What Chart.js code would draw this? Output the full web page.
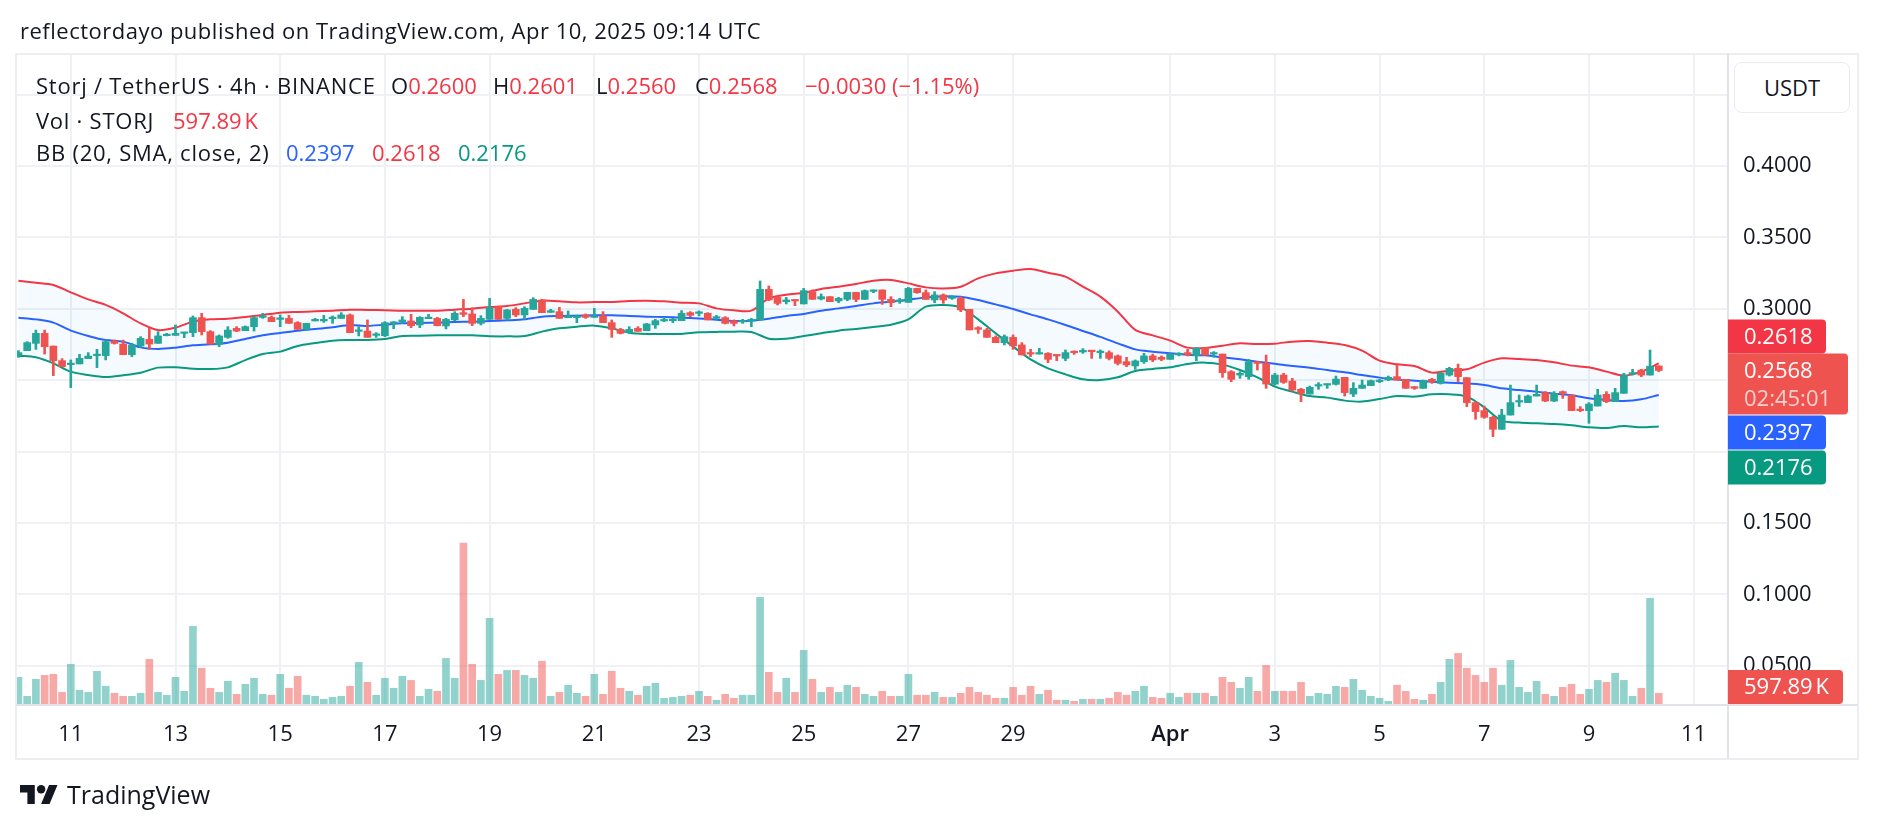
<!DOCTYPE html>
<html>
<head>
<meta charset="utf-8">
<script src="https://cdn.jsdelivr.net/npm/chart.js@4.4.1/dist/chart.umd.min.js"></script>
<style>
  html, body { margin: 0; padding: 0; background: #fff; }
  body { width: 1878px; height: 830px; position: relative; overflow: hidden;
         font-family: "Open Sans", sans-serif; color: #131722; }
  #chart { position: absolute; left: 0; top: 0; }
  .t { position: absolute; white-space: nowrap; line-height: 1; }
  #head { left: 20px; top: 18.5px; font-size: 22px; letter-spacing: 0.5px; }
  .leg { font-size: 22px; }
  .name { letter-spacing: 0.75px; }
  .red { color: #f23645; }
  .blue { color: #2962ff; }
  .green { color: #089981; }
  #usdt { position: absolute; left: 1734px; top: 62px; width: 114px; height: 49px;
          border: 1px solid #e9ebf0; border-radius: 8px; background: #fff;
          font-size: 22px; line-height: 49px; text-align: center; }
  #logo { position: absolute; left: 20px; top: 783px; height: 22px; display: flex; align-items: center; }
  #logo span { font-size: 25px; margin-left: 9px; line-height: 1; }
</style>
</head>
<body>
<canvas id="chart" width="1878" height="830"></canvas>

<div class="t" id="head">reflectordayo published on TradingView.com, Apr 10, 2025 09:14 UTC</div>

<div class="t leg name" style="left:36px;top:73.5px">Storj / TetherUS · 4h · BINANCE</div>
<div class="t leg" style="left:391px;top:73.5px">O<span class="red" id="lo"></span></div>
<div class="t leg" style="left:493px;top:73.5px">H<span class="red" id="lh"></span></div>
<div class="t leg" style="left:596px;top:73.5px">L<span class="red" id="ll"></span></div>
<div class="t leg" style="left:695px;top:73.5px">C<span class="red" id="lc"></span></div>
<div class="t leg red" style="left:805px;top:73.5px" id="lchg"></div>

<div class="t leg name" style="left:36px;top:109px">Vol · STORJ</div>
<div class="t leg red" style="left:173px;top:109px" id="lvol"></div>

<div class="t leg name" style="left:36px;top:141px">BB (20, SMA, close, 2)</div>
<div class="t leg blue" style="left:286px;top:141px" id="lbm"></div>
<div class="t leg red" style="left:372px;top:141px" id="lbu"></div>
<div class="t leg green" style="left:458px;top:141px" id="lbl"></div>

<div id="usdt">USDT</div>

<div id="logo">
  <svg width="38" height="19" viewBox="0 4 36 18"><path d="M14 22H7V11H0V4h14v18zM28 22h-8l7.5-18h8L28 22z" fill="#131722"/><circle cx="20" cy="8" r="4" fill="#131722"/></svg>
  <span>TradingView</span>
</div>

<script>
// STORJ/USDT 4h, candle 0 = Mar 10 00:00 UTC, last = Apr 10 08:00
const candleOpen = [
  0.2676, 0.2707, 0.2758, 0.2828, 0.2739, 0.2637, 0.2609, 0.2614, 0.2651, 0.2672,
  0.2672, 0.2774, 0.2753, 0.2679, 0.2739, 0.2786, 0.2758, 0.2812, 0.2814, 0.2828,
  0.2833, 0.2938, 0.2840, 0.2751, 0.2800, 0.2863, 0.2847, 0.2875, 0.2940, 0.2940,
  0.2926, 0.2933, 0.2903, 0.2856, 0.2915, 0.2915, 0.2931, 0.2933, 0.2957, 0.2842,
  0.2844, 0.2814, 0.2812, 0.2898, 0.2910, 0.2915, 0.2887, 0.2931, 0.2933, 0.2880,
  0.2922, 0.2973, 0.2964, 0.2898, 0.2926, 0.3015, 0.2933, 0.2996, 0.2957, 0.2996,
  0.3062, 0.2975, 0.2980, 0.2938, 0.2938, 0.2957, 0.2940, 0.2950, 0.2903, 0.2856,
  0.2833, 0.2863, 0.2847, 0.2887, 0.2915, 0.2917, 0.2917, 0.2973, 0.2968, 0.2968,
  0.2933, 0.2938, 0.2915, 0.2908, 0.2915, 0.2922, 0.3136, 0.3080, 0.3050, 0.3062,
  0.3034, 0.3120, 0.3069, 0.3085, 0.3055, 0.3066, 0.3115, 0.3066, 0.3122, 0.3132,
  0.3066, 0.3050, 0.3045, 0.3143, 0.3113, 0.3062, 0.3097, 0.3073, 0.3073, 0.2996,
  0.2868, 0.2852, 0.2800, 0.2763, 0.2800, 0.2747, 0.2693, 0.2683, 0.2688, 0.2674,
  0.2653, 0.2700, 0.2698, 0.2705, 0.2693, 0.2693, 0.2670, 0.2630, 0.2600, 0.2630,
  0.2670, 0.2660, 0.2646, 0.2677, 0.2693, 0.2670, 0.2730, 0.2683, 0.2683, 0.2560,
  0.2536, 0.2525, 0.2630, 0.2618, 0.2473, 0.2536, 0.2494, 0.2436, 0.2403, 0.2459,
  0.2466, 0.2471, 0.2520, 0.2403, 0.2443, 0.2462, 0.2490, 0.2501, 0.2525, 0.2506,
  0.2455, 0.2443, 0.2506, 0.2478, 0.2536, 0.2583, 0.2518, 0.2343, 0.2287, 0.2240,
  0.2156, 0.2256, 0.2347, 0.2343, 0.2389, 0.2413, 0.2354, 0.2420, 0.2396, 0.2296,
  0.2287, 0.2319, 0.2401, 0.2350, 0.2408, 0.2541, 0.2571, 0.2536, 0.2600
];
const candleHigh = [
  0.2707, 0.2770, 0.2851, 0.2851, 0.2739, 0.2651, 0.2642, 0.2681, 0.2693, 0.2716,
  0.2781, 0.2781, 0.2781, 0.2758, 0.2805, 0.2863, 0.2840, 0.2828, 0.2887, 0.2835,
  0.2950, 0.2968, 0.2847, 0.2817, 0.2875, 0.2875, 0.2880, 0.2945, 0.2968, 0.2950,
  0.2957, 0.2954, 0.2910, 0.2898, 0.2933, 0.2954, 0.2950, 0.2973, 0.2964, 0.2875,
  0.2922, 0.2833, 0.2910, 0.2910, 0.2945, 0.2961, 0.2945, 0.2961, 0.2940, 0.2933,
  0.2980, 0.3066, 0.3008, 0.2952, 0.3073, 0.3015, 0.2996, 0.3008, 0.3015, 0.3078,
  0.3066, 0.2996, 0.3010, 0.2985, 0.2957, 0.2964, 0.3003, 0.2980, 0.2922, 0.2863,
  0.2875, 0.2875, 0.2898, 0.2926, 0.2940, 0.2933, 0.2987, 0.2980, 0.2985, 0.2973,
  0.2954, 0.2945, 0.2922, 0.2926, 0.2933, 0.3195, 0.3160, 0.3085, 0.3080, 0.3062,
  0.3143, 0.3132, 0.3104, 0.3085, 0.3080, 0.3115, 0.3115, 0.3132, 0.3132, 0.3132,
  0.3085, 0.3073, 0.3150, 0.3143, 0.3132, 0.3120, 0.3104, 0.3090, 0.3085, 0.2996,
  0.2875, 0.2863, 0.2810, 0.2817, 0.2817, 0.2763, 0.2716, 0.2723, 0.2693, 0.2674,
  0.2712, 0.2705, 0.2721, 0.2705, 0.2712, 0.2705, 0.2677, 0.2660, 0.2642, 0.2688,
  0.2683, 0.2670, 0.2688, 0.2693, 0.2716, 0.2728, 0.2730, 0.2700, 0.2683, 0.2567,
  0.2560, 0.2646, 0.2630, 0.2676, 0.2548, 0.2548, 0.2513, 0.2443, 0.2459, 0.2483,
  0.2473, 0.2529, 0.2520, 0.2483, 0.2501, 0.2501, 0.2506, 0.2529, 0.2606, 0.2506,
  0.2455, 0.2501, 0.2513, 0.2553, 0.2590, 0.2613, 0.2518, 0.2350, 0.2319, 0.2249,
  0.2296, 0.2466, 0.2396, 0.2396, 0.2466, 0.2420, 0.2420, 0.2424, 0.2396, 0.2315,
  0.2343, 0.2436, 0.2420, 0.2443, 0.2548, 0.2576, 0.2576, 0.2711, 0.2601
];
const candleLow = [
  0.2660, 0.2707, 0.2716, 0.2683, 0.2532, 0.2595, 0.2448, 0.2614, 0.2651, 0.2588,
  0.2642, 0.2753, 0.2679, 0.2665, 0.2730, 0.2716, 0.2758, 0.2810, 0.2814, 0.2798,
  0.2805, 0.2817, 0.2753, 0.2735, 0.2793, 0.2840, 0.2847, 0.2844, 0.2933, 0.2910,
  0.2875, 0.2898, 0.2856, 0.2856, 0.2915, 0.2905, 0.2898, 0.2933, 0.2833, 0.2810,
  0.2800, 0.2800, 0.2805, 0.2861, 0.2898, 0.2868, 0.2868, 0.2931, 0.2880, 0.2859,
  0.2915, 0.2945, 0.2882, 0.2887, 0.2926, 0.2926, 0.2922, 0.2945, 0.2926, 0.2996,
  0.2973, 0.2975, 0.2933, 0.2938, 0.2903, 0.2933, 0.2940, 0.2903, 0.2800, 0.2824,
  0.2828, 0.2842, 0.2847, 0.2863, 0.2910, 0.2903, 0.2917, 0.2945, 0.2950, 0.2922,
  0.2926, 0.2894, 0.2880, 0.2898, 0.2875, 0.2922, 0.3057, 0.3027, 0.3034, 0.3022,
  0.3034, 0.3066, 0.3062, 0.3050, 0.3043, 0.3057, 0.3050, 0.3066, 0.3113, 0.3031,
  0.3015, 0.3038, 0.3045, 0.3108, 0.3066, 0.3043, 0.3038, 0.3066, 0.2980, 0.2852,
  0.2828, 0.2800, 0.2763, 0.2747, 0.2716, 0.2677, 0.2665, 0.2683, 0.2623, 0.2637,
  0.2637, 0.2681, 0.2688, 0.2653, 0.2653, 0.2642, 0.2607, 0.2595, 0.2576, 0.2618,
  0.2630, 0.2637, 0.2646, 0.2670, 0.2670, 0.2637, 0.2676, 0.2660, 0.2520, 0.2490,
  0.2513, 0.2506, 0.2571, 0.2443, 0.2466, 0.2478, 0.2424, 0.2350, 0.2403, 0.2436,
  0.2443, 0.2466, 0.2389, 0.2385, 0.2443, 0.2462, 0.2483, 0.2497, 0.2501, 0.2443,
  0.2436, 0.2443, 0.2478, 0.2473, 0.2529, 0.2490, 0.2315, 0.2226, 0.2233, 0.2105,
  0.2156, 0.2256, 0.2315, 0.2343, 0.2389, 0.2350, 0.2350, 0.2373, 0.2287, 0.2280,
  0.2198, 0.2319, 0.2343, 0.2350, 0.2408, 0.2536, 0.2525, 0.2536, 0.2560
];
const candleClose = [
  0.2693, 0.2763, 0.2828, 0.2735, 0.2637, 0.2595, 0.2618, 0.2653, 0.2669, 0.2679,
  0.2770, 0.2758, 0.2679, 0.2746, 0.2793, 0.2753, 0.2810, 0.2821, 0.2828, 0.2835,
  0.2938, 0.2840, 0.2753, 0.2810, 0.2851, 0.2844, 0.2875, 0.2938, 0.2950, 0.2910,
  0.2933, 0.2898, 0.2856, 0.2898, 0.2926, 0.2926, 0.2940, 0.2957, 0.2833, 0.2851,
  0.2800, 0.2824, 0.2903, 0.2903, 0.2922, 0.2882, 0.2940, 0.2940, 0.2882, 0.2926,
  0.2968, 0.2961, 0.2898, 0.2933, 0.3010, 0.2926, 0.2992, 0.2957, 0.3003, 0.3066,
  0.2973, 0.2987, 0.2933, 0.2950, 0.2945, 0.2940, 0.2950, 0.2903, 0.2856, 0.2828,
  0.2856, 0.2842, 0.2894, 0.2917, 0.2922, 0.2922, 0.2968, 0.2954, 0.2975, 0.2922,
  0.2945, 0.2898, 0.2898, 0.2915, 0.2926, 0.3136, 0.3062, 0.3038, 0.3062, 0.3055,
  0.3127, 0.3066, 0.3085, 0.3050, 0.3073, 0.3115, 0.3066, 0.3127, 0.3132, 0.3066,
  0.3043, 0.3062, 0.3143, 0.3113, 0.3066, 0.3097, 0.3062, 0.3080, 0.2992, 0.2852,
  0.2856, 0.2800, 0.2763, 0.2805, 0.2740, 0.2677, 0.2683, 0.2693, 0.2646, 0.2670,
  0.2693, 0.2693, 0.2707, 0.2700, 0.2700, 0.2653, 0.2618, 0.2607, 0.2635, 0.2670,
  0.2642, 0.2646, 0.2683, 0.2688, 0.2677, 0.2723, 0.2676, 0.2693, 0.2553, 0.2506,
  0.2548, 0.2630, 0.2618, 0.2473, 0.2536, 0.2485, 0.2431, 0.2408, 0.2450, 0.2466,
  0.2473, 0.2508, 0.2413, 0.2443, 0.2466, 0.2497, 0.2497, 0.2520, 0.2501, 0.2443,
  0.2443, 0.2497, 0.2490, 0.2548, 0.2583, 0.2525, 0.2343, 0.2280, 0.2240, 0.2156,
  0.2256, 0.2343, 0.2354, 0.2389, 0.2401, 0.2354, 0.2408, 0.2408, 0.2287, 0.2287,
  0.2333, 0.2396, 0.2350, 0.2413, 0.2536, 0.2553, 0.2536, 0.2598, 0.2568
];
// volume in thousands of STORJ
const volumeK = [
  1490, 430, 1380, 1600, 1660, 650, 2220, 770, 650, 1830,
  990, 600, 430, 430, 600, 2500, 650, 490, 1490, 710,
  4340, 2000, 880, 650, 1270, 540, 1100, 1440, 540, 490,
  1660, 880, 1550, 490, 430, 260, 370, 430, 990, 2330,
  1210, 490, 1440, 880, 1550, 1320, 430, 820, 710, 2550,
  1440, 9000, 2220, 1320, 4790, 1660, 1880, 1880, 1600, 1440,
  2390, 430, 650, 1050, 600, 430, 1660, 540, 1830, 880,
  710, 490, 990, 1160, 320, 370, 430, 490, 710, 430,
  210, 540, 320, 490, 490, 5960, 1770, 650, 1440, 650,
  3000, 1380, 650, 930, 650, 1050, 930, 540, 430, 710,
  430, 430, 1660, 490, 490, 650, 370, 370, 600, 930,
  650, 490, 320, 320, 930, 490, 990, 540, 770, 210,
  210, 150, 260, 260, 260, 320, 650, 490, 710, 990,
  370, 320, 600, 370, 600, 600, 600, 430, 1490, 1210,
  880, 1490, 710, 2160, 710, 710, 710, 1210, 430, 600,
  540, 990, 930, 1380, 770, 430, 320, 150, 1050, 710,
  260, 210, 540, 1210, 2500, 2830, 2000, 1600, 1210, 2000,
  1050, 2440, 930, 650, 1270, 540, 430, 930, 1100, 540,
  820, 1320, 1210, 1720, 1320, 430, 880, 5910, 597.89
];

// Bollinger bands, every second candle
const bandIdx = [
  0, 2, 4, 6, 8, 10, 12, 14, 16, 18, 20, 22, 24, 26, 28, 30, 32, 34, 36, 38,
  40, 42, 44, 46, 48, 50, 52, 54, 56, 58, 60, 62, 64, 66, 68, 70, 72, 74, 76, 78,
  80, 82, 84, 86, 88, 90, 92, 94, 96, 98, 100, 102, 104, 106, 108, 110, 112, 114, 116, 118,
  120, 122, 124, 126, 128, 130, 132, 134, 136, 138, 140, 142, 144, 146, 148, 150, 152, 154, 156, 158,
  160, 162, 164, 166, 168, 170, 172, 174, 176, 178, 180, 182, 184, 186, 188
];
const bbUpper = [
  0.3197, 0.3183, 0.3167, 0.3115, 0.3066, 0.3027, 0.2968, 0.2898, 0.2851, 0.2868,
  0.2910, 0.2926, 0.2931, 0.2943, 0.2957, 0.2973, 0.2978, 0.2982, 0.2987, 0.2994,
  0.2992, 0.2990, 0.2987, 0.2987, 0.2987, 0.2994, 0.3001, 0.3012, 0.3020, 0.3038,
  0.3057, 0.3052, 0.3045, 0.3047, 0.3048, 0.3055, 0.3057, 0.3052, 0.3043, 0.3038,
  0.3003, 0.2989, 0.2987, 0.3073, 0.3099, 0.3113, 0.3139, 0.3155, 0.3174, 0.3197,
  0.3202, 0.3178, 0.3150, 0.3143, 0.3155, 0.3213, 0.3248, 0.3267, 0.3279, 0.3253,
  0.3225, 0.3155, 0.3085, 0.2980, 0.2852, 0.2814, 0.2777, 0.2728, 0.2725, 0.2742,
  0.2758, 0.2753, 0.2756, 0.2770, 0.2774, 0.2763, 0.2746, 0.2707, 0.2637, 0.2611,
  0.2600, 0.2553, 0.2567, 0.2576, 0.2623, 0.2653, 0.2648, 0.2641, 0.2625, 0.2602,
  0.2590, 0.2560, 0.2532, 0.2560, 0.2618
];
const bbBasis = [
  0.2938, 0.2926, 0.2903, 0.2847, 0.2810, 0.2781, 0.2770, 0.2730, 0.2719, 0.2728,
  0.2744, 0.2751, 0.2763, 0.2789, 0.2814, 0.2831, 0.2847, 0.2859, 0.2870, 0.2887,
  0.2880, 0.2889, 0.2898, 0.2901, 0.2903, 0.2907, 0.2910, 0.2914, 0.2919, 0.2926,
  0.2945, 0.2950, 0.2952, 0.2954, 0.2954, 0.2950, 0.2945, 0.2942, 0.2938, 0.2932,
  0.2924, 0.2915, 0.2917, 0.2931, 0.2950, 0.2964, 0.2987, 0.3003, 0.3020, 0.3038,
  0.3050, 0.3064, 0.3080, 0.3087, 0.3085, 0.3062, 0.3031, 0.2999, 0.2961, 0.2926,
  0.2887, 0.2845, 0.2803, 0.2758, 0.2716, 0.2700, 0.2688, 0.2679, 0.2674, 0.2660,
  0.2646, 0.2630, 0.2616, 0.2600, 0.2588, 0.2571, 0.2555, 0.2536, 0.2518, 0.2504,
  0.2497, 0.2490, 0.2483, 0.2478, 0.2466, 0.2443, 0.2431, 0.2420, 0.2406, 0.2394,
  0.2373, 0.2361, 0.2354, 0.2366, 0.2397
];
const bbLower = [
  0.2672, 0.2660, 0.2618, 0.2560, 0.2536, 0.2522, 0.2534, 0.2552, 0.2588, 0.2590,
  0.2581, 0.2578, 0.2590, 0.2641, 0.2683, 0.2700, 0.2739, 0.2760, 0.2777, 0.2781,
  0.2781, 0.2788, 0.2810, 0.2812, 0.2814, 0.2814, 0.2814, 0.2808, 0.2807, 0.2810,
  0.2840, 0.2863, 0.2875, 0.2882, 0.2863, 0.2833, 0.2824, 0.2824, 0.2824, 0.2835,
  0.2838, 0.2840, 0.2838, 0.2791, 0.2791, 0.2810, 0.2828, 0.2847, 0.2859, 0.2873,
  0.2889, 0.2926, 0.3015, 0.3027, 0.3010, 0.2926, 0.2828, 0.2735, 0.2646, 0.2583,
  0.2541, 0.2506, 0.2501, 0.2520, 0.2564, 0.2579, 0.2590, 0.2614, 0.2623, 0.2609,
  0.2571, 0.2520, 0.2455, 0.2420, 0.2389, 0.2378, 0.2357, 0.2350, 0.2368, 0.2389,
  0.2385, 0.2401, 0.2401, 0.2385, 0.2310, 0.2217, 0.2203, 0.2198, 0.2193, 0.2184,
  0.2170, 0.2165, 0.2179, 0.2170, 0.2176
];

// time axis: candle index of each date label
const dateTickIdx = [6, 18, 30, 42, 54, 66, 78, 90, 102, 114, 132, 144, 156, 168, 180, 192];
const dateLabels = ['11', '13', '15', '17', '19', '21', '23', '25', '27', '29', 'Apr', '3', '5', '7', '9', '11'];
const priceTicks = [0.05, 0.10, 0.15, 0.20, 0.25, 0.30, 0.35, 0.40, 0.45];

const UP = '#26a69a', DOWN = '#ef5350';
const GRID = '#eff1f4';
const FONT = '"Open Sans", sans-serif';
const last = candleClose.length - 1;
const isUp = i => candleClose[i] >= candleOpen[i];
const candleColors = candleClose.map((c, i) => isUp(i) ? UP : DOWN);

Chart.defaults.font.family = FONT;
Chart.defaults.color = '#131722';

// legend values from the data
const fmt = v => v.toFixed(4);
const minus = s => s.replace('-', '\u2212');
document.getElementById('lo').textContent = fmt(candleOpen[last]);
document.getElementById('lh').textContent = fmt(candleHigh[last]);
document.getElementById('ll').textContent = fmt(candleLow[last]);
document.getElementById('lc').textContent = fmt(candleClose[last]);
const chg = candleClose[last] - candleClose[last - 1];
document.getElementById('lchg').textContent =
  minus(chg.toFixed(4)) + ' (' + minus((chg / candleClose[last - 1] * 100).toFixed(2)) + '%)';
document.getElementById('lvol').textContent = volumeK[last].toFixed(2) + '\u202FK';
document.getElementById('lbm').textContent = fmt(bbBasis[bbBasis.length - 1]);
document.getElementById('lbu').textContent = fmt(bbUpper[bbUpper.length - 1]);
document.getElementById('lbl').textContent = fmt(bbLower[bbLower.length - 1]);

function drawTag(ctx, x, top, w, h, color, lines) {
  const r = 4;
  ctx.fillStyle = color;
  ctx.beginPath();
  ctx.moveTo(x, top);
  ctx.lineTo(x + w - r, top);
  ctx.quadraticCurveTo(x + w, top, x + w, top + r);
  ctx.lineTo(x + w, top + h - r);
  ctx.quadraticCurveTo(x + w, top + h, x + w - r, top + h);
  ctx.lineTo(x, top + h);
  ctx.closePath();
  ctx.fill();
  ctx.font = '22px ' + FONT;
  ctx.textAlign = 'left';
  ctx.textBaseline = 'middle';
  lines.forEach((ln, k) => {
    ctx.fillStyle = k === 0 ? '#ffffff' : 'rgba(255,255,255,0.72)';
    ctx.fillText(ln, x + 16, top + 18 + k * 28);
  });
}

const framePlugin = {
  id: 'frame',
  afterDraw(chart) {
    const { ctx, chartArea: a, scales } = chart;
    const py = scales.y, vy = scales.yv;
    ctx.save();
    // outer frame and pane dividers
    ctx.strokeStyle = '#eceef2';
    ctx.lineWidth = 2;
    ctx.strokeRect(16, 54, 1842, 705);
    ctx.strokeStyle = '#e0e3eb';
    ctx.beginPath();
    ctx.moveTo(a.right + 1, a.top); ctx.lineTo(a.right + 1, 759);
    ctx.moveTo(16, a.bottom + 1); ctx.lineTo(1858, a.bottom + 1);
    ctx.stroke();

    // price tags on the right scale, stacked so they do not overlap
    const x = a.right + 1;
    const mainTop = py.getPixelForValue(candleClose[last]) - 17;
    const mainBot = mainTop + 61;
    const upTop = Math.min(py.getPixelForValue(bbUpper[bbUpper.length - 1]) - 17, mainTop - 34);
    const midTop = Math.max(py.getPixelForValue(bbBasis[bbBasis.length - 1]) - 17, mainBot + 1);
    const lowTop = Math.max(py.getPixelForValue(bbLower[bbLower.length - 1]) - 17, midTop + 35);
    ctx.fillStyle = '#ffffff';
    ctx.fillRect(x + 1, upTop, 128, lowTop + 34 - upTop);
    drawTag(ctx, x, upTop, 98, 34, '#f23645', [fmt(bbUpper[bbUpper.length - 1])]);
    drawTag(ctx, x, mainTop, 120, 61, '#ef5350', [fmt(candleClose[last]), '02:45:01']);
    drawTag(ctx, x, midTop, 98, 34, '#2962ff', [fmt(bbBasis[bbBasis.length - 1])]);
    drawTag(ctx, x, lowTop, 98, 34, '#089981', [fmt(bbLower[bbLower.length - 1])]);
    const volTop = Math.min(vy.getPixelForValue(volumeK[last]) - 17, a.bottom - 34);
    drawTag(ctx, x, volTop, 115, 34, '#ef5350', [volumeK[last].toFixed(2) + '\u202FK']);
    ctx.restore();
  }
};

new Chart(document.getElementById('chart'), {
  type: 'bar',
  data: {
    datasets: [
      {
        type: 'bar', label: 'Volume', yAxisID: 'yv',
        data: volumeK.map((v, i) => ({ x: i, y: v })),
        backgroundColor: volumeK.map((v, i) => isUp(i) ? 'rgba(38,166,154,0.5)' : 'rgba(239,83,80,0.5)'),
        barThickness: 7, grouped: false, order: 10
      },
      {
        type: 'line', label: 'BB upper',
        data: bandIdx.map((x, k) => ({ x, y: bbUpper[k] })),
        borderColor: '#f23645', borderWidth: 2, pointRadius: 0, tension: 0.3,
        fill: { target: 3, above: 'rgba(33,150,243,0.05)', below: 'rgba(33,150,243,0.05)' },
        order: 5
      },
      {
        type: 'line', label: 'BB basis',
        data: bandIdx.map((x, k) => ({ x, y: bbBasis[k] })),
        borderColor: '#2962ff', borderWidth: 2, pointRadius: 0, tension: 0.3, fill: false,
        order: 4
      },
      {
        type: 'line', label: 'BB lower',
        data: bandIdx.map((x, k) => ({ x, y: bbLower[k] })),
        borderColor: '#089981', borderWidth: 2, pointRadius: 0, tension: 0.3, fill: false,
        order: 4
      },
      {
        type: 'bar', label: 'Wick',
        data: candleLow.map((l, i) => ({ x: i, y: [l, candleHigh[i]] })),
        backgroundColor: candleColors, barThickness: 2, grouped: false, order: 2
      },
      {
        type: 'bar', label: 'Body',
        data: candleOpen.map((o, i) => ({ x: i, y: [o, candleClose[i]] })),
        backgroundColor: candleColors, barThickness: 7, minBarLength: 1.5, grouped: false, order: 1
      }
    ]
  },
  options: {
    responsive: false,
    animation: false,
    devicePixelRatio: 1,
    events: [],
    layout: { padding: { left: 17, top: 53, right: 20, bottom: 71 } },
    plugins: { legend: { display: false }, tooltip: { enabled: false } },
    scales: {
      x: {
        type: 'linear', min: -0.166, max: 195.82, offset: false,
        grid: { color: GRID, lineWidth: 2, offset: false, drawTicks: false },
        border: { display: false },
        ticks: {
          autoSkip: false, maxRotation: 0, padding: 18, color: '#131722',
          font: ctx => ({ family: FONT, size: 22, weight: ctx.tick && ctx.tick.label === 'Apr' ? '600' : '400' }),
          callback: (v, i) => dateLabels[i]
        },
        afterBuildTicks: s => { s.ticks = dateTickIdx.map(v => ({ value: v })); },
        afterFit: s => { s.height = 55; }
      },
      y: {
        type: 'linear', position: 'right', min: 0.02325, max: 0.47913,
        grid: { color: GRID, lineWidth: 2, drawTicks: false },
        border: { display: false },
        ticks: { padding: 16, color: '#131722', font: { family: FONT, size: 22 }, callback: v => v.toFixed(4) },
        afterBuildTicks: s => { s.ticks = priceTicks.map(v => ({ value: v })); },
        afterFit: s => { s.width = 131; }
      },
      yv: { type: 'linear', display: false, min: 0, max: 36400, grid: { display: false } }
    }
  },
  plugins: [framePlugin]
});
</script>
</body>
</html>
